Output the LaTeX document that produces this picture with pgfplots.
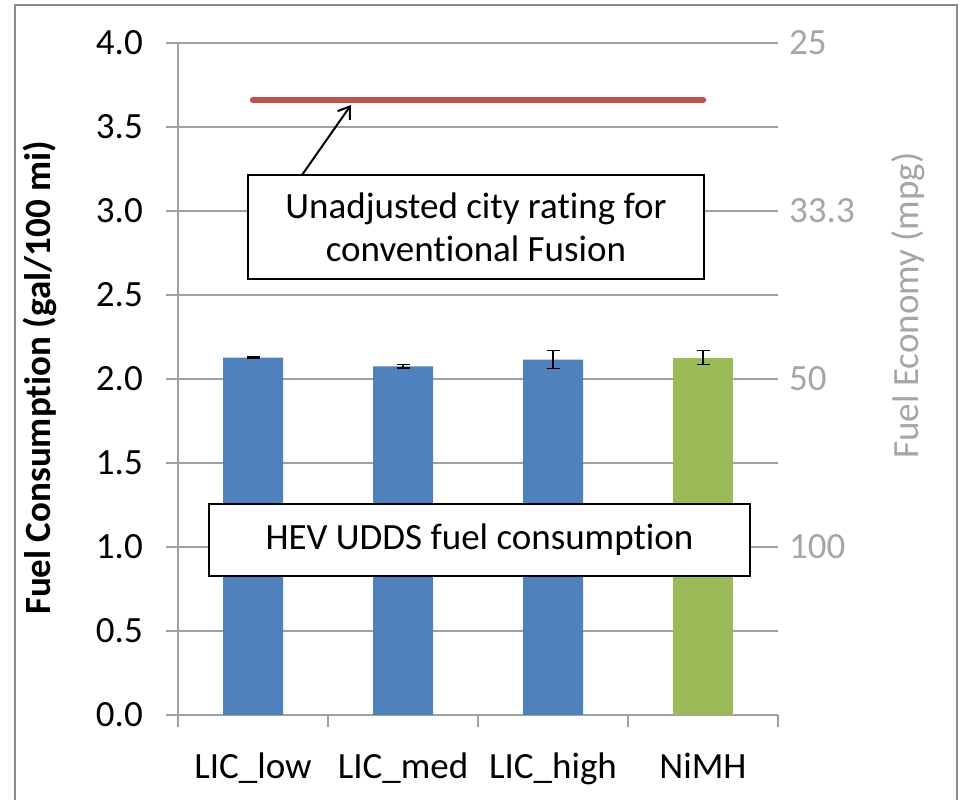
\documentclass[border=0pt]{standalone}
\usepackage{pgfplots}
\pgfplotsset{compat=1.18}
\usepackage{fontspec}
\setmainfont{Carlito}[Ligatures=NoCommon]
\usetikzlibrary{arrows.meta}
\definecolor{barblue}{HTML}{4F81BD}
\definecolor{bargreen}{HTML}{9BBB59}
\definecolor{linered}{HTML}{C0504D}
\definecolor{gridgray}{HTML}{A0A0A0}
\definecolor{axisgray}{HTML}{A0A0A0}
\definecolor{econgray}{HTML}{A6A6A6}
\definecolor{framegray}{HTML}{8C8C8C}
\newcommand{\bigfont}{\fontsize{37bp}{43bp}\selectfont}
\begin{document}
\begin{tikzpicture}
\useasboundingbox (0bp,0bp) rectangle (959bp,800bp);
\fill[white] (0bp,0bp) rectangle (959bp,800bp);
\draw[framegray, line width=2.5bp] (15bp,-5bp) -- (15bp,795bp) -- (957bp,795bp) -- (957bp,-5bp);
\begin{axis}[
  at={(178bp,85bp)}, anchor=south west,
  width=600bp, height=672bp, scale only axis,
  xmin=-0.5, xmax=3.5, ymin=0, ymax=4,
  axis x line*=bottom, axis y line*=left,
  axis line style={draw=axisgray, line width=1.5bp},
  ytick={0,0.5,1,1.5,2,2.5,3,3.5,4},
  yticklabels={0.0,0.5,1.0,1.5,2.0,2.5,3.0,3.5,4.0},
  xtick={-0.5,0.5,1.5,2.5,3.5}, xticklabels={},
  extra x ticks={0,1,2,3},
  extra x tick labels={LIC\_low,LIC\_med,LIC\_high,NiMH},
  extra x tick style={tick style={draw=none}, grid=none},
  tick align=outside, major tick length=12bp,
  tick style={draw=axisgray, line width=1.5bp},
  ymajorgrids, grid style={draw=gridgray, line width=1.5bp},
  tick label style={font=\bigfont, inner sep=0pt},
  yticklabel shift=23bp, xticklabel shift=26bp,
  bar width=0.4, clip=false,
]
\addplot[ybar, bar shift=0pt, fill=barblue, draw=none,
  error bars/.cd, y dir=both, y explicit,
  error bar style={black, line width=1.5bp},
  error mark options={rotate=90, mark size=6.5bp, line width=1.5bp, black}]
  coordinates {(0,2.127) +- (0,0.003) (1,2.075) +- (0,0.01) (2,2.115) +- (0,0.054)};
\addplot[ybar, bar shift=0pt, fill=bargreen, draw=none,
  error bars/.cd, y dir=both, y explicit,
  error bar style={black, line width=1.5bp},
  error mark options={rotate=90, mark size=6.5bp, line width=1.5bp, black}]
  coordinates {(3,2.127) +- (0,0.042)};
\addplot[sharp plot, no markers, linered, line width=6.5bp, line cap=round]
  coordinates {(0,3.661) (1,3.661) (2,3.661) (3,3.661)};
\end{axis}
\begin{axis}[
  at={(178bp,85bp)}, anchor=south west,
  width=600bp, height=672bp, scale only axis,
  xmin=-0.5, xmax=3.5, ymin=0, ymax=4,
  axis x line=none, axis y line*=right,
  y axis line style={draw=none},
  ytick={1,2,3,4}, yticklabels={100,50,33.3,25},
  major tick length=0pt, tick style={draw=none},
  yticklabel style={font=\bigfont, text=econgray, inner sep=0pt},
  yticklabel shift=11bp,
]
\end{axis}
\node[rotate=90, font=\bigfont\bfseries] at (40bp,422bp) {Fuel Consumption (gal/100 mi)};
\node[rotate=90, font=\bigfont, text=econgray] at (908bp,494.5bp) {Fuel Economy (mpg)};
\draw[black, line width=2bp, -{Straight Barb[length=11bp,width=15bp]}] (302bp,625bp) -- (351bp,695bp);
\node[draw=black, line width=2bp, fill=white, minimum width=456bp, minimum height=104bp, inner sep=0pt, align=center, font=\bigfont] at (476bp,573bp) {Unadjusted city rating for\\conventional Fusion};
\node[draw=black, line width=2bp, fill=white, minimum width=541bp, minimum height=72bp, inner sep=0pt, align=center, font=\bigfont] at (479.5bp,260bp) {HEV UDDS fuel consumption};
\end{tikzpicture}
\end{document}
